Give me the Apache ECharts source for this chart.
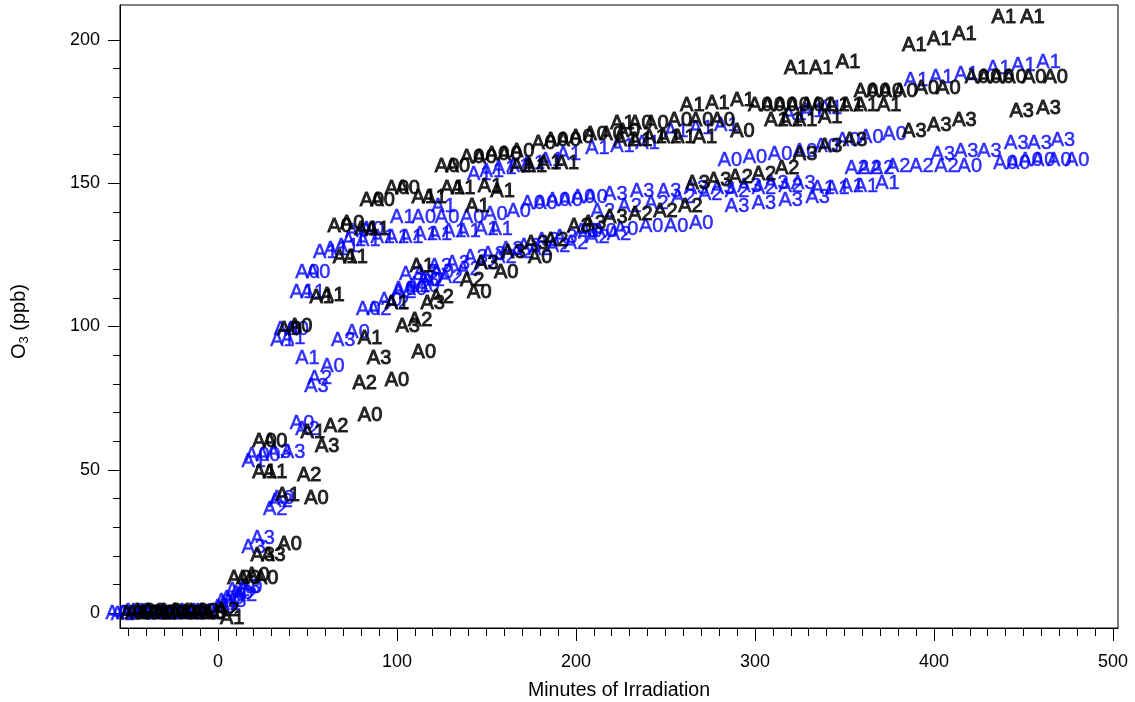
<!DOCTYPE html>
<html><head><meta charset="utf-8">
<script src="https://cdn.jsdelivr.net/npm/echarts@6/dist/echarts.min.js"></script>
<style>html,body{margin:0;padding:0;background:#fff}#c{width:1135px;height:702px}</style>
</head><body><div id="c"></div>
<script>
// [minutes, ppb] points, each drawn as its text marker
const blackA0 = [
 [-48,0],[-36,0.5],[-24,0],[-12,0.5],[-2,0],
 [12,12],[17,12],[22,13],[27,12],
 [40,24],[55,40],[26,60],[32,60],
 [85,69],[100,81],[115,91],[146,112],[161,119],[180,124],
 [40,99],[46,100],[68,135],[75,136],
 [86,144],[92,144],[100,148],[106,148],
 [128,156],[134,156],[142,159],[149,159],[156,160],[163,160],[170,161],
 [182,164],[189,165],[196,165],[203,166],[211,167],[220,167],[229,168],
 [236,171],[245,171],[258,172],[270,172],[282,172],[293,168],
 [303,177],[310,177],[317,177],[324,177],[332,177],
 [362,182],[369,182],[376,182],[384,182],[396,183],[408,183],
 [424,187],[431,187],[438,187],[445,187],[456,187],[468,187]
];
const blackA1 = [
 [-45,0],[-33,0],[-21,0.5],[-9,0],[8,-2],
 [26,49],[32,49],[39,41],[53,63],
 [85,96],[100,108],[114,121],
 [58,110],[64,111],[71,124],[77,124],[83,134],[89,134],
 [115,145],[121,145],[131,148],[137,148],[145,142],[152,149],[159,147],
 [170,156],[177,156],[185,157],[195,157],
 [226,171],[228,165],[236,165],[244,166],[252,166],[260,166],[272,166],
 [312,172],[320,172],[328,172],[342,173],
 [338,177],[346,177],[354,177],[362,177],[375,177],
 [265,177],[279,178],[293,179],[323,190],[337,190],[352,192],
 [389,198],[403,200],[417,202],[439,208],[455,208]
];
const blackA2 = [
 [-42,0.5],[-30,0],[-18,0],[-6,0.5],[5,1],
 [51,48],[66,65],[82,80],[113,102],[125,110],[142,116],[189,130],
 [236,139],[250,140],[264,142],
 [292,152],[305,153],[318,155]
];
const blackA3 = [
 [-39,0],[-27,0.5],[-15,0],[-3,0],
 [25,20],[31,20],[61,58],[90,89],[106,100],[120,108],[150,122],[165,126],[178,129],
 [202,135],[210,136],[222,138],[268,150],[280,151],
 [328,160],[342,163],[356,165],
 [389,168],[403,170],[417,172],[449,175],[464,176]
];
const blueA0 = [
 [-56,0],[-44,0.5],[-32,0],[-20,0],[-8,0.5],
 [3,2],[8,5],[13,7],[18,9],
 [36,40],[22,55],[28,55],[47,66],
 [64,86],[78,98],[38,99],[44,99],
 [84,106],[96,109],[104,113],[110,113],[117,114],
 [50,119],[56,119],[78,133],[86,134],
 [115,138],[128,138],[142,138],[155,139],[168,140],
 [176,143],[183,143],[190,144],[197,144],[204,145],[211,145],
 [118,116],[125,119],
 [208,133],[216,133],[228,134],[242,135],[256,135],[270,136],
 [286,158],[300,159],[314,160],[328,161],[340,163],
 [352,165],[365,166],[378,167],
 [420,156],[440,157],[447,157],[454,158],[461,158],[470,158],[480,158]
];
const blueA1 = [
 [-53,-0.5],[-41,0],[-29,0],[-17,0.5],[-5,0],
 [5,4],[11,8],[20,53],
 [36,95],[42,96],[50,89],[47,112],[53,112],
 [60,126],[66,127],[72,128],
 [76,130],[84,130],[92,131],[100,131],[108,131],[116,132],[124,132],[132,133],[140,133],[150,134],[158,134],
 [103,138],[126,142],
 [146,153],[153,154],[160,155],[168,156],[176,157],[186,158],[196,160],
 [212,162],[226,163],[240,164],[256,168],[270,169],[284,170],
 [322,174],[332,175],[342,176],
 [338,148],[346,148],[354,149],[362,149],[374,150],
 [390,186],[404,187],[418,188],[436,190],[450,191],[464,192]
];
const blueA2 = [
 [-50,0],[-38,0],[-26,0],[-14,0],
 [6,3],[15,6],
 [32,36],[35,39],[50,64],[57,82],
 [90,106],[100,108],
 [104,112],[112,114],[120,116],[130,117],[140,120],[150,122],[160,124],[170,126],[180,127],[190,128],[200,129],[212,131],[224,132],
 [215,140],[230,142],[245,143],[260,145],[275,146],[290,147],[305,148],[320,149],
 [357,155],[364,155],[371,155],[380,156],[393,156],[407,156]
];
const blueA3 = [
 [-47,0.5],[-35,0],[-23,0],[-11,0],
 [9,4],[17,9],[20,23],[25,26],
 [34,56],[42,56],[55,79],[70,95],
 [108,118],[116,119],[124,121],[134,122],[144,124],[154,125],[164,127],[174,128],[184,130],[194,131],[206,133],
 [222,146],[237,147],[252,147],[267,148],[282,148],[297,149],[312,150],[327,150],
 [290,142],[305,143],[320,144],[335,145],
 [405,160],[418,161],[431,161],[446,164],[459,164],[472,165]
];
const xMajorTicks = [0,100,200,300,400,500];
const xMinorTicks = [-50,-40,-30,-20,-10,0,10,20,30,40,50,60,70,80,90,100,110,120,130,140,150,160,170,180,190,200,210,220,230,240,250,260,270,280,290,300,310,320,330,340,350,360,370,380,390,400,410,420,430,440,450,460,470,480,490,500];
const yMajorTicks = [0,50,100,150,200];
const yMinorTicks = [0,10,20,30,40,50,60,70,80,90,100,110,120,130,140,150,160,170,180,190,200];

const FONT = 'Liberation Sans, Arial, Helvetica, sans-serif';
const xMin = -54.7, xMax = 502.8, yMin = -5.2, yMax = 212.2;

function mk(data, text, color, bw) {
  return {
    type: 'scatter', data: data, symbol: 'circle', symbolSize: 2,
    itemStyle: { color: 'rgba(0,0,0,0)' }, clip: false, silent: true, animation: false,
    label: { show: true, position: 'inside', formatter: text, color: color,
      fontSize: 20, fontFamily: FONT, textBorderColor: color, textBorderWidth: bw }
  };
}
const chart = echarts.init(document.getElementById('c'), null, { renderer: 'canvas' });
const lineSt = { color: '#000', width: 1 };
chart.setOption({
  animation: false,
  backgroundColor: '#fff',
  grid: { left: 120, right: 17, top: 5, bottom: 74, show: true, borderColor: '#000', borderWidth: 1,
          containLabel: false, outerBoundsMode: 'none' },
  xAxis: [
    { type: 'value', min: xMin, max: xMax, position: 'bottom',
      axisLine: { show: true, onZero: false, lineStyle: lineSt },
      axisTick: { show: true, inside: false, length: 13, customValues: xMajorTicks, lineStyle: lineSt },
      axisLabel: { customValues: xMajorTicks, margin: 25, fontSize: 18, color: '#000', fontFamily: FONT },
      splitLine: { show: false },
      name: 'Minutes of Irradiation', nameLocation: 'middle', nameGap: 53,
      nameTextStyle: { fontSize: 19.5, color: '#000', fontFamily: FONT } },
    { type: 'value', min: xMin, max: xMax, position: 'bottom',
      axisLine: { show: false, onZero: false },
      axisTick: { show: true, inside: false, length: 8, customValues: xMinorTicks, lineStyle: lineSt },
      axisLabel: { show: false }, splitLine: { show: false } }
  ],
  yAxis: [
    { type: 'value', min: yMin, max: yMax, position: 'left',
      axisLine: { show: true, onZero: false, lineStyle: lineSt },
      axisTick: { show: true, inside: false, length: 12, customValues: yMajorTicks, lineStyle: lineSt },
      axisLabel: { customValues: yMajorTicks, margin: 20, fontSize: 18, color: '#000', fontFamily: FONT },
      splitLine: { show: false },
      name: '{o|O}{s|3}{o| (ppb)}', nameLocation: 'middle', nameGap: 89, nameRotate: 90,
      nameTextStyle: { color: '#000', fontFamily: FONT, padding: [0, 10, 0, 0],
        rich: { o: { fontSize: 20, fontFamily: FONT, color: '#000', lineHeight: 24, verticalAlign: 'middle' },
                s: { fontSize: 13, fontFamily: FONT, color: '#000', lineHeight: 24, verticalAlign: 'bottom' } } } },
    { type: 'value', min: yMin, max: yMax, position: 'left',
      axisLine: { show: false, onZero: false },
      axisTick: { show: true, inside: false, length: 7, customValues: yMinorTicks, lineStyle: lineSt },
      axisLabel: { show: false }, splitLine: { show: false } }
  ],
  series: [
    mk(blueA0, 'A0', '#0000ff', 0.5), mk(blueA1, 'A1', '#0000ff', 0.5),
    mk(blueA2, 'A2', '#0000ff', 0.5), mk(blueA3, 'A3', '#0000ff', 0.5),
    mk(blackA0, 'A0', '#000000', 1), mk(blackA1, 'A1', '#000000', 1),
    mk(blackA2, 'A2', '#000000', 1), mk(blackA3, 'A3', '#000000', 1)
  ]
});
</script></body></html>
